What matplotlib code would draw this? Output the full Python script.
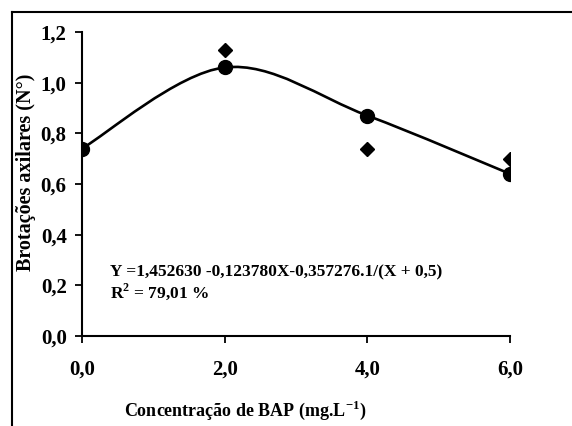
import matplotlib
matplotlib.use("Agg")
import matplotlib.pyplot as plt
from matplotlib.path import Path
from matplotlib.patches import PathPatch
from matplotlib.lines import Line2D

# Data
bap = [0.0, 2.0, 4.0, 6.0]
fitted = [0.74, 1.06, 0.87, 0.64]       # circles (on the curve)
observed = [0.74, 1.13, 0.74, 0.70]     # diamonds
xticks = [0.0, 2.0, 4.0, 6.0]
xticklabels = ["0,0", "2,0", "4,0", "6,0"]
yticks = [0.0, 0.2, 0.4, 0.6, 0.8, 1.0, 1.2]
yticklabels = ["0,0", "0,2", "0,4", "0,6", "0,8", "1,0", "1,2"]
equation = "Y =1,452630 -0,123780X-0,357276.1/(X + 0,5)"
r2_text = r"R$^{\mathbf{2}}$ = 79,01 %"
xlabel = "Concentração de BAP (mg.L$^{\\mathbf{-1}}$)"
ylabel = "Brotações axilares (N°)"

plt.rcParams['font.family'] = ['Liberation Serif', 'DejaVu Serif']
plt.rcParams['font.weight'] = 'bold'
plt.rcParams['mathtext.fontset'] = 'custom'
plt.rcParams['mathtext.rm'] = 'Liberation Serif:bold'
plt.rcParams['mathtext.bf'] = 'Liberation Serif:bold'

fig = plt.figure(figsize=(5.72, 4.26), dpi=100)
ax = fig.add_axes([0.1434, 0.2113, 0.7482, 0.7136])

# Smoothed (Excel-like) line through fitted points using Bezier segments
pts = list(zip(bap, fitted))
n = len(pts)
verts = [pts[0]]
codes = [Path.MOVETO]
for i in range(n - 1):
    p0 = pts[i - 1] if i > 0 else pts[i]
    p1 = pts[i]
    p2 = pts[i + 1]
    p3 = pts[i + 2] if i + 2 < n else pts[i + 1]
    c1 = (p1[0] + (p2[0] - p0[0]) / 6, p1[1] + (p2[1] - p0[1]) / 6)
    c2 = (p2[0] - (p3[0] - p1[0]) / 6, p2[1] - (p3[1] - p1[1]) / 6)
    verts += [c1, c2, p2]
    codes += [Path.CURVE4] * 3
ax.add_patch(PathPatch(Path(verts, codes), facecolor='none', edgecolor='black',
                       lw=1.9, zorder=2))

ax.plot(bap, observed, linestyle='none', marker='D', markersize=7.5,
        color='black', zorder=3)
ax.plot(bap, fitted, linestyle='none', marker='o', markersize=10,
        color='black', zorder=4)

ax.set_xlim(0, 6)
ax.set_ylim(0, 1.2)
ax.set_xticks(xticks)
ax.set_xticklabels(xticklabels, fontsize=15, fontweight='bold')
ax.set_yticks(yticks)
ax.set_yticklabels(yticklabels, fontsize=15, fontweight='bold')
ax.tick_params(axis='both', direction='out', length=5, width=1.3)
ax.tick_params(axis='x', pad=12)
ax.tick_params(axis='y', pad=6)
for s in ['top', 'right']:
    ax.spines[s].set_visible(False)
for s in ['left', 'bottom']:
    ax.spines[s].set_linewidth(1.5)

ax.set_xlabel(xlabel, fontsize=13, fontweight='bold', labelpad=12)
ax.xaxis.set_label_coords(0.381, -0.205)
ax.set_ylabel(ylabel, fontsize=14.5, fontweight='bold')
ax.yaxis.set_label_coords(-0.107, 0.54)

ax.text(0.065, 0.21, equation, transform=ax.transAxes, fontsize=12.5,
        fontweight='bold', va='center', ha='left')
ax.text(0.065, 0.145, r2_text, transform=ax.transAxes, fontsize=12.5,
        fontweight='bold', va='center', ha='left')

# Figure frame (left and top)
fig.add_artist(Line2D([12/572, 12/572], [0, 1 - 12/426], transform=fig.transFigure,
                      color='black', lw=1.5))
fig.add_artist(Line2D([12/572, 1], [1 - 12/426, 1 - 12/426], transform=fig.transFigure,
                      color='black', lw=1.5))

fig.savefig("out.png", dpi=100)
